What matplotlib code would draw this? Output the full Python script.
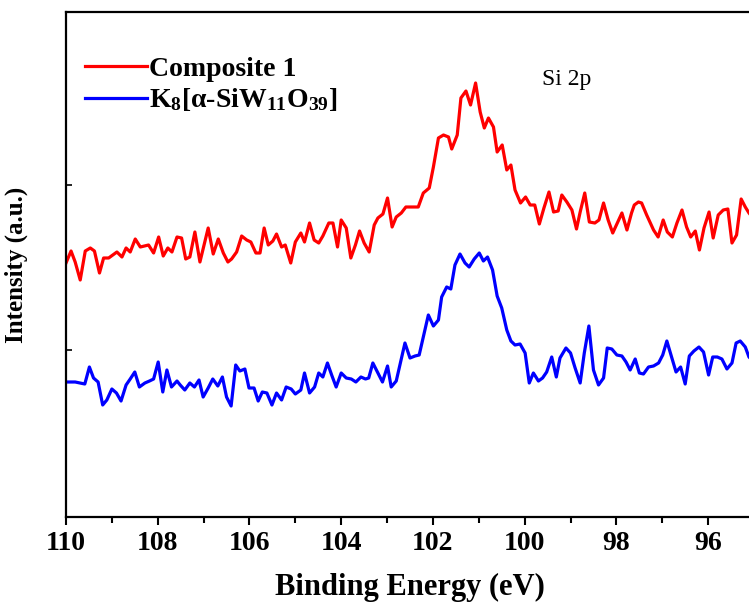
import matplotlib
matplotlib.use('Agg')
import matplotlib.pyplot as plt
import numpy as np

plt.rcParams['font.family'] = ['Liberation Serif', 'DejaVu Serif']
plt.rcParams['font.weight'] = 'bold'
plt.rcParams['mathtext.fontset'] = 'custom'
plt.rcParams['mathtext.rm'] = 'Liberation Serif:bold'
plt.rcParams['mathtext.it'] = 'Liberation Serif:bold'
plt.rcParams['mathtext.bf'] = 'Liberation Serif:bold'

# Si 2p spectra, binding energy (eV) vs intensity (a.u.)
be_composite = [110.00, 109.89, 109.80, 109.69, 109.58, 109.47, 109.38, 109.27, 109.18, 109.07,
                108.89, 108.78, 108.69, 108.60, 108.49, 108.38, 108.20, 108.09, 107.98, 107.88,
                107.78, 107.69, 107.58, 107.48, 107.39, 107.30, 107.19, 107.08, 106.98, 106.90,
                106.79, 106.68, 106.57, 106.47, 106.39, 106.28, 106.17, 106.06, 105.97, 105.86,
                105.77, 105.68, 105.59, 105.49, 105.41, 105.30, 105.22, 105.10, 105.00, 104.88,
                104.80, 104.69, 104.59, 104.49, 104.40, 104.27, 104.18, 104.08, 104.00, 103.89,
                103.79, 103.69, 103.60, 103.50, 103.39, 103.28, 103.20, 103.09, 102.99, 102.89,
                102.80, 102.69, 102.59, 102.46, 102.32, 102.21, 102.08, 101.99, 101.88, 101.77,
                101.66, 101.59, 101.47, 101.39, 101.28, 101.18, 101.07, 100.97, 100.88, 100.79,
                100.68, 100.60, 100.49, 100.39, 100.30, 100.21, 100.09, 99.98, 99.88, 99.78,
                99.68, 99.58, 99.47, 99.37, 99.27, 99.19, 99.08, 98.97, 98.87, 98.79,
                98.69, 98.59, 98.47, 98.38, 98.28, 98.18, 98.08, 97.98, 97.88, 97.77,
                97.67, 97.61, 97.52, 97.45, 97.34, 97.19, 97.09, 96.98, 96.89, 96.78,
                96.68, 96.57, 96.47, 96.38, 96.28, 96.19, 96.09, 95.98, 95.89, 95.78,
                95.67, 95.57, 95.48, 95.38, 95.28, 95.19, 95.11, 95.00]
int_composite = [254, 266, 255, 237, 266, 269, 266, 244, 259, 259,
                 265, 260, 269, 265, 278, 270, 272, 264, 280, 261,
                 269, 265, 280, 279, 258, 260, 285, 255, 274, 289,
                 263, 278, 264, 255, 258, 265, 281, 277, 275, 264,
                 264, 289, 272, 276, 283, 270, 272, 254, 275, 284,
                 275, 294, 277, 274, 281, 294, 294, 270, 297, 289,
                 259, 272, 286, 274, 265, 292, 299, 303, 319, 290,
                 300, 304, 310, 310, 310, 324, 329, 350, 379, 382,
                 380, 368, 382, 419, 426, 412, 434, 405, 389, 399,
                 390, 365, 372, 347, 352, 327, 314, 320, 312, 312,
                 293, 309, 325, 305, 306, 322, 315, 307, 288, 305,
                 324, 295, 294, 297, 314, 297, 284, 294, 304, 287,
                 304, 312, 315, 314, 302, 287, 280, 297, 285, 280,
                 294, 307, 290, 280, 286, 267, 289, 305, 279, 302,
                 307, 308, 274, 282, 318, 310, 304, 298]

be_k8 = [110.00, 109.80, 109.59, 109.49, 109.40, 109.30, 109.20, 109.11, 109.00, 108.90,
         108.80, 108.69, 108.60, 108.50, 108.40, 108.28, 108.18, 108.09, 107.99, 107.89,
         107.80, 107.70, 107.58, 107.51, 107.41, 107.30, 107.20, 107.10, 107.01, 106.90,
         106.80, 106.69, 106.59, 106.50, 106.40, 106.30, 106.21, 106.10, 106.01, 105.90,
         105.81, 105.72, 105.62, 105.51, 105.41, 105.30, 105.20, 105.09, 105.00, 104.88,
         104.80, 104.69, 104.58, 104.49, 104.40, 104.30, 104.20, 104.11, 104.00, 103.89,
         103.78, 103.68, 103.57, 103.47, 103.40, 103.31, 103.20, 103.10, 102.99, 102.91,
         102.80, 102.72, 102.61, 102.50, 102.39, 102.30, 102.21, 102.10, 101.99, 101.88,
         101.81, 101.70, 101.61, 101.52, 101.41, 101.30, 101.21, 101.10, 100.99, 100.90,
         100.81, 100.70, 100.60, 100.50, 100.39, 100.30, 100.21, 100.10, 99.99, 99.90,
         99.81, 99.70, 99.61, 99.52, 99.41, 99.31, 99.23, 99.10, 99.00, 98.90,
         98.79, 98.70, 98.60, 98.50, 98.39, 98.28, 98.20, 98.10, 97.99, 97.88,
         97.79, 97.70, 97.59, 97.50, 97.41, 97.30, 97.19, 97.08, 96.99, 96.90,
         96.79, 96.70, 96.60, 96.50, 96.41, 96.31, 96.20, 96.10, 95.99, 95.90,
         95.80, 95.70, 95.59, 95.48, 95.39, 95.30, 95.19, 95.11, 95.00]
int_k8 = [135, 135, 133, 150, 139, 135, 112, 117, 128, 124,
          116, 132, 138, 145, 130, 134, 136, 138, 155, 125,
          147, 130, 136, 132, 127, 134, 130, 137, 120, 129,
          138, 131, 140, 120, 111, 152, 146, 148, 129, 129,
          116, 125, 124, 112, 124, 117, 130, 128, 123, 127,
          144, 124, 130, 144, 140, 154, 141, 130, 144, 139,
          138, 135, 140, 138, 139, 154, 144, 135, 151, 130,
          136, 152, 174, 159, 161, 162, 180, 202, 191, 197,
          220, 230, 228, 252, 263, 254, 250, 258, 264, 256,
          260, 247, 221, 209, 187, 176, 172, 173, 164, 134,
          144, 136, 139, 145, 160, 140, 159, 169, 164, 149,
          134, 164, 191, 147, 132, 139, 169, 168, 162, 161,
          155, 147, 158, 144, 143, 150, 151, 154, 162, 176,
          159, 145, 150, 133, 161, 166, 170, 165, 142, 160,
          160, 158, 148, 154, 174, 176, 170, 160, 155]

fig = plt.figure(figsize=(7.49, 6.07), dpi=100)
ax = fig.add_axes([66/749, 90/607, 688/749, 505/607])

ax.plot(be_composite, int_composite, color='#ff0000', lw=2.3, label='Composite 1')
ax.plot(be_k8, int_k8, color='#0000ff', lw=2.3,
        label='K$_8$[\u03b1-SiW$_{11}$O$_{39}$]')

ax.set_xlim(110, 95)
ax.set_ylim(0, 505)
ax.set_xticks(np.arange(110, 95, -2))
ax.set_xticks(np.arange(109, 95, -2), minor=True)
ax.set_yticks([167, 332])
ax.set_yticklabels([])
ax.tick_params(axis='x', which='major', direction='out', length=6, width=1.5,
               labelsize=20, pad=4)
ax.tick_params(axis='x', which='minor', direction='out', length=4, width=1.5)
ax.tick_params(axis='y', which='major', direction='in', length=4, width=1.2)
for lbl in ax.get_xticklabels():
    lbl.set_fontweight('bold')
for sp in ax.spines.values():
    sp.set_linewidth(1.6)

ax.set_xlabel('Binding Energy (eV)', fontsize=22, fontweight='bold', labelpad=12)
ax.set_ylabel('Intensity (a.u.)', fontsize=18, fontweight='bold', labelpad=24)

ax.text(0.728, 0.866, 'Si 2p', transform=ax.transAxes, fontsize=17,
        fontweight='normal', ha='center', va='center')

ax.legend(loc='upper left', bbox_to_anchor=(0.0, 0.95), frameon=False,
          prop={'size': 20, 'weight': 'bold'}, handlelength=2.2,
          handletextpad=0.1, labelspacing=0.15, borderaxespad=0.3)

fig.savefig('out.png', dpi=100)
